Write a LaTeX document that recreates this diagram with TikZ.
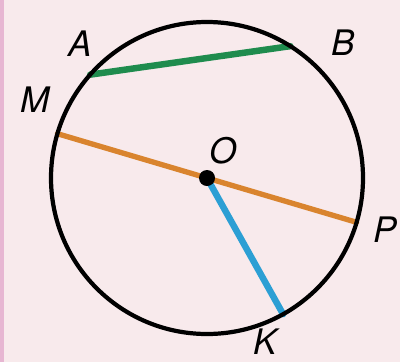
\documentclass[tikz,border=0pt]{standalone}
\usepackage{fontspec}
\setmainfont{TeX Gyre Heros}
\usepackage{xcolor}
\usetikzlibrary{calc}

\definecolor{bgpink}{HTML}{F8EAEC}
\definecolor{edgepink}{HTML}{E7B6D2}
\definecolor{chordgreen}{HTML}{1F8C4E}
\definecolor{diamorange}{HTML}{D9842E}
\definecolor{radblue}{HTML}{2C9FD4}

\begin{document}
\begin{tikzpicture}[
  lbl/.style={font=\fontsize{25}{28}\selectfont\itshape, inner sep=0pt},
  seg/.style={line width=4.6pt, line cap=round}
]
\fill[bgpink] (0,0) rectangle (10,9.05);
\fill[edgepink] (0,0) rectangle (0.1,9.05);
\useasboundingbox (0,0) rectangle (10,9.05);

% circle and points on it
\coordinate (O) at (5.175,4.6);
\coordinate (A) at ($(O)+(138.5:3.9)$);
\coordinate (B) at ($(O)+(57.7:3.9)$);
\coordinate (M) at ($(O)+(163.5:3.9)$);
\coordinate (P) at ($(O)+(-16.5:3.9)$);
\coordinate (K) at ($(O)+(-60.8:3.9)$);

\draw[seg, chordgreen] (A) -- (B);
\draw[seg, diamorange, line width=3.8pt] (M) -- (P);
\draw[seg, radblue] (O) -- (K);
\draw[line width=3pt] (O) circle (3.9);
\fill (O) circle (0.2);

% labels
\node[lbl] at ($(O)+(133.3:4.63)$) {A};
\node[lbl] at ($(O)+(44.8:4.79)$) {B};
\node[lbl] at ($(O)+(155.6:4.72)$) {M};
\node[lbl] at ($(O)+(60.3:0.8)$) {O};
\node[lbl] at ($(O)+(-16.3:4.64)$) {P};
\node[lbl] at ($(O)+(-70.5:4.33)$) {K};
\end{tikzpicture}
\end{document}
